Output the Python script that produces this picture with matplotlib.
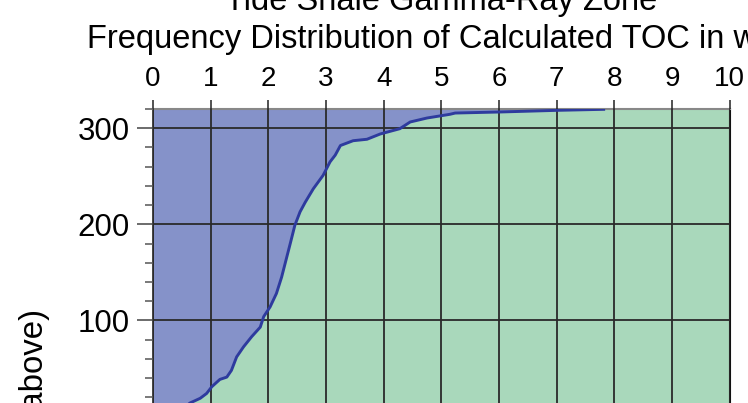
import matplotlib
matplotlib.use("Agg")
import matplotlib.pyplot as plt
from matplotlib.ticker import MultipleLocator

plt.rcParams['font.family'] = ['Liberation Sans', 'DejaVu Sans']

# Data: cumulative count of samples vs calculated TOC (wt%)
toc = [0.0, 0.3, 0.5, 0.64, 0.82, 0.93, 1.02, 1.16, 1.28, 1.36, 1.45, 1.57, 1.71,
       1.86, 1.92, 2.03, 2.14, 2.23, 2.32, 2.38, 2.46, 2.55, 2.64, 2.78, 2.95,
       3.07, 3.16, 3.25, 3.47, 3.71, 3.94, 4.28, 4.46, 4.75, 5.15, 5.24, 6.02,
       7.0, 7.84]
count = [0, 2, 7, 14, 19, 24, 31, 38.6, 41, 48, 62, 72.5, 83, 93, 104, 114, 128,
         145, 166, 180, 199, 213, 223, 237, 251, 265, 272, 282, 287, 288.5, 294,
         299.5, 306.5, 310.6, 314.5, 315.8, 316.9, 318.6, 319.7]
x_ticks = [0, 1, 2, 3, 4, 5, 6, 7, 8, 9, 10]
y_ticks = [100, 200, 300]
title_line1 = "Tide Shale Gamma-Ray Zone"
title_line2 = "Frequency Distribution of Calculated TOC in wt%"
y_label = "Cumulative Number of Samples (TOC values shown above)"

X_MAX, Y_MAX = 10, 320
BLUE = "#8592C9"
GREEN = "#A9D8BB"
LINE = "#2E3B9E"
GRID = "#2a2a2a"

W, H = 748, 403
fig = plt.figure(figsize=(W / 100, H / 100), dpi=100)
left, right, top, y0 = 153, 729.7, 109, 416.5
ax = fig.add_axes([left / W, 1 - y0 / H, (right - left) / W, (y0 - top) / H])

toc_ext = toc + [X_MAX]
cnt_ext = count + [Y_MAX]
ax.fill_between(toc_ext, cnt_ext, Y_MAX, color=BLUE, lw=0, zorder=1)
ax.fill_between(toc_ext, 0, cnt_ext, color=GREEN, lw=0, zorder=1)
ax.plot(toc, count, color=LINE, lw=2.1, zorder=4, solid_capstyle='butt')

ax.set_xlim(0, X_MAX)
ax.set_ylim(0, Y_MAX)
ax.xaxis.tick_top()
ax.set_xticks(x_ticks)
ax.set_xticklabels([str(v) for v in x_ticks])
ax.set_yticks(y_ticks)
ax.yaxis.set_minor_locator(MultipleLocator(20))
ax.grid(True, which='major', color=GRID, lw=1.3, zorder=3)
ax.set_axisbelow(False)

ax.tick_params(axis='x', which='major', direction='out', length=6.5, width=1.1,
               color='#222222', labelsize=20, pad=6)
ax.tick_params(axis='y', which='major', direction='out', length=11.5, width=1.1,
               color='#444444', labelsize=22.5, pad=5)
ax.tick_params(axis='y', which='minor', direction='out', length=5.8, width=1.1,
               color='#555555')
ax.spines['top'].set_color('#888888')
ax.spines['top'].set_linewidth(1.5)
ax.spines['right'].set_color('#111111')
ax.spines['right'].set_linewidth(1.5)
ax.spines['left'].set_color('#222222')
ax.spines['left'].set_linewidth(1.2)
ax.spines['bottom'].set_visible(False)

cx = (left + right) / 2 / W
fig.text(cx, 1 - 10 / H, title_line1, ha='center', va='baseline', fontsize=23.5)
fig.text(cx, 1 - 48 / H, title_line2, ha='center', va='baseline', fontsize=23.5)
fig.text(35 / W, 1 - 309 / H, y_label, rotation=90, ha='center', va='top', fontsize=23.8)

fig.savefig("out.png", dpi=100)
